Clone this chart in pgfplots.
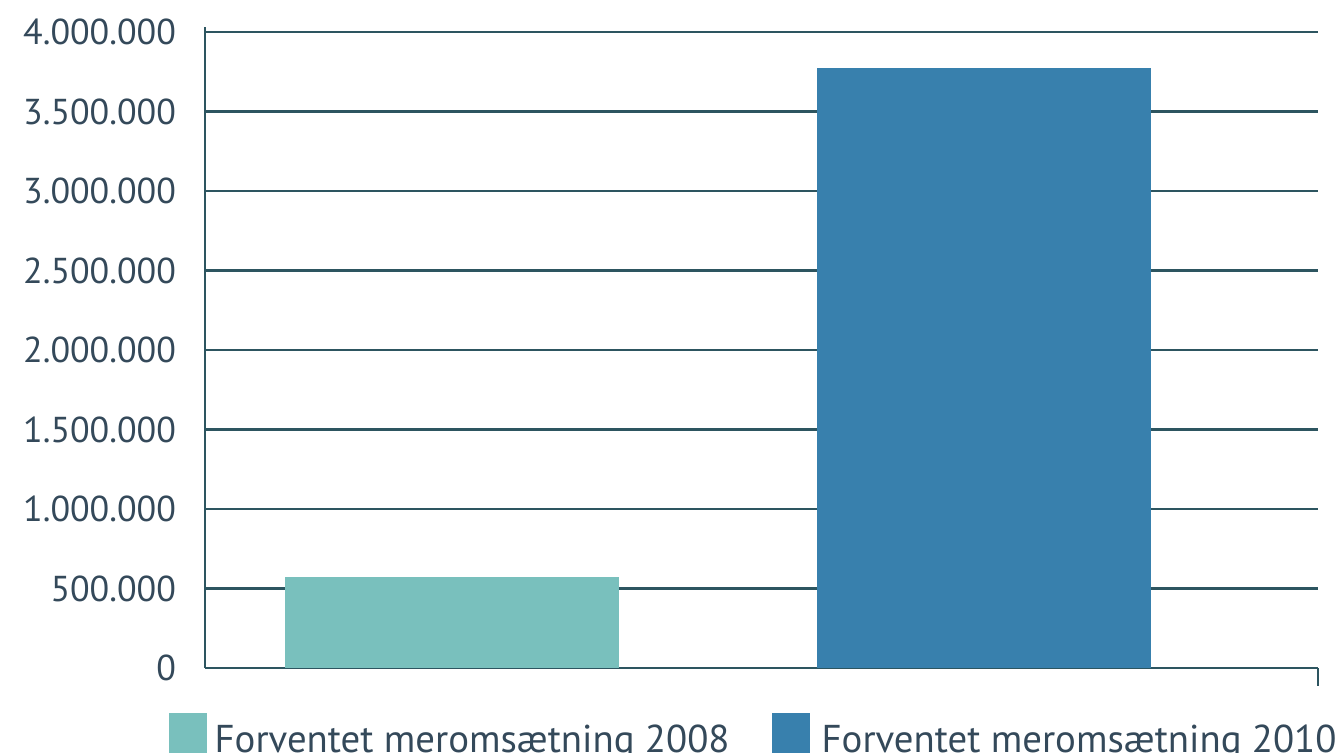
\documentclass[border=0pt]{standalone}
\usepackage{pgfplots}
\pgfplotsset{compat=1.18}
\usepackage{fontspec}
\setmainfont{PT Sans}
\definecolor{txt}{HTML}{34495A}
\definecolor{gridc}{HTML}{2D5560}
\definecolor{barA}{HTML}{79C0BD}
\definecolor{barB}{HTML}{3880AD}
\begin{document}
\begin{tikzpicture}
\useasboundingbox (0,0) rectangle (670.5pt,376.5pt);
\begin{axis}[
  at={(102.5pt,42.5pt)}, anchor=south west,
  scale only axis, width=556.5pt, height=320.4pt,
  xmin=-0.464, xmax=1.628,
  ymin=0, ymax=4030000,
  axis lines=left,
  axis line style={-, draw=gridc, line width=1.1pt},
  ytick={0,500000,1000000,1500000,2000000,2500000,3000000,3500000,4000000},
  ymajorgrids,
  grid style={draw=gridc, line width=1.1pt},
  major tick length=0pt,
  xtick=\empty,
  extra x ticks={1.628},
  extra x tick labels={},
  extra x tick style={major tick length=9pt, tick align=outside, tick style={draw=gridc, line width=1.1pt}},
  scaled y ticks=false,
  /pgf/number format/.cd, fixed, 1000 sep={.}, assume math mode=true,
  /pgfplots/.cd,
  yticklabel style={font=\fontsize{18}{20}\selectfont, text=txt, xshift=-11pt},
  ybar, bar width=0.628, bar shift=0pt,
  legend columns=2,
  legend style={at={(rel axis cs:-0.033,-0.0702)}, anchor=north west, draw=none, inner sep=0pt,
     font=\fontsize{19.4}{21}\selectfont, text=txt,
     nodes={inner sep=0pt}},
  legend image code/.code={\fill[#1] (0pt,-7.25pt) rectangle (19pt,12.75pt);},
  clip=false,
]
\addplot[fill=barA, draw=none] coordinates {(0,572000)};
\addlegendentry{\raisebox{0pt}[15.5pt][1.5pt]{\hspace*{4pt}\makebox[278.5pt][l]{Forventet meromsætning 2008}}}
\addplot[fill=barB, draw=none] coordinates {(1,3775000)};
\addlegendentry{\raisebox{0pt}[15.5pt][1.5pt]{\hspace*{6pt}Forventet meromsætning 2010}}
\end{axis}
\end{tikzpicture}
\end{document}
